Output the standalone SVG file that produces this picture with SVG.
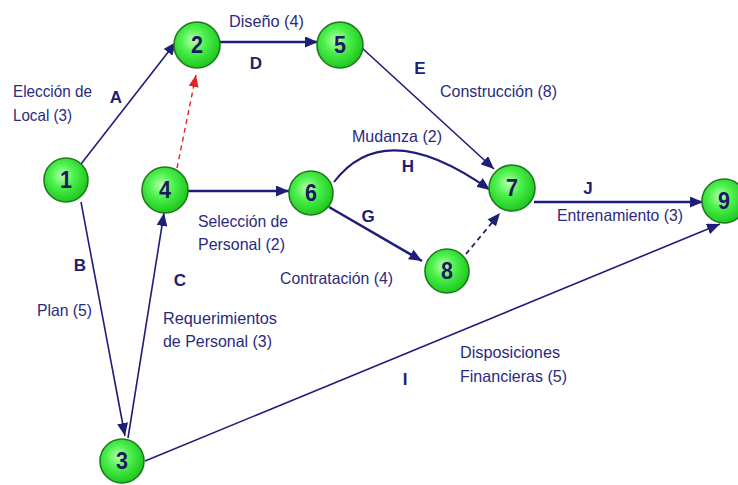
<svg xmlns="http://www.w3.org/2000/svg" width="738" height="485" viewBox="0 0 738 485">
  <style>
    .edge { fill: none; stroke: #1e1e78; stroke-width: 1.6; }
    .thick { stroke-width: 2.6; }
    .dummy { fill: none; stroke: #1e1e78; stroke-width: 1.8; stroke-dasharray: 5 4; }
    .red { fill: none; stroke: #e42222; stroke-width: 1.4; stroke-dasharray: 5 4; }
    .node circle { fill: url(#ball); stroke: #1f7a1f; stroke-width: 1.6; }
    .node text { font-family: "Liberation Sans", Arial, sans-serif; font-weight: bold; font-size: 23px; fill: #1a1a5e; text-anchor: middle; }
    .lbl { font-family: "Liberation Sans", Arial, sans-serif; font-size: 16.5px; fill: #2a2a7e; }
    .let { font-family: "Liberation Sans", Arial, sans-serif; font-size: 17px; font-weight: bold; fill: #1e1e70; text-anchor: middle; }
  </style>
  <defs>
    <radialGradient id="ball" cx="0.42" cy="0.4" r="0.6">
      <stop offset="0" stop-color="#b8ffb0"/>
      <stop offset="0.45" stop-color="#4cf04c"/>
      <stop offset="1" stop-color="#1fc81f"/>
    </radialGradient>
    <marker id="arr" markerUnits="userSpaceOnUse" markerWidth="13" markerHeight="11" refX="13" refY="5.5" orient="auto">
      <path d="M0,0 L13,5.5 L0,11 z" fill="#1e1e78"/>
    </marker>
    <marker id="arrRed" markerUnits="userSpaceOnUse" markerWidth="12" markerHeight="10" refX="12" refY="5" orient="auto">
      <path d="M0,0 L12,5 L0,10 z" fill="#e42222"/>
    </marker>
  </defs>

  <rect width="738" height="485" fill="#ffffff"/>

  <!-- activity arrows -->
  <g id="connectors">
    <line class="edge" x1="81" y1="164" x2="176" y2="42" marker-end="url(#arr)"/>
    <line class="edge" x1="81" y1="202" x2="125" y2="436" marker-end="url(#arr)"/>
    <line class="edge" x1="128" y1="438" x2="164" y2="213" marker-end="url(#arr)"/>
    <line class="red" x1="177" y1="168" x2="196" y2="75" marker-end="url(#arrRed)"/>
    <line class="edge thick" x1="220" y1="42" x2="318" y2="42" marker-end="url(#arr)"/>
    <line class="edge" x1="362" y1="48" x2="494" y2="169" marker-end="url(#arr)"/>
    <line class="edge thick" x1="188" y1="191" x2="289" y2="191" marker-end="url(#arr)"/>
    <path class="edge" d="M334,182 Q385,115 490,190" style="stroke-width:2" marker-end="url(#arr)"/>
    <line class="edge thick" x1="329" y1="207" x2="422" y2="261" marker-end="url(#arr)"/>
    <line class="dummy" x1="466" y1="254" x2="500" y2="213" marker-end="url(#arr)"/>
    <line class="edge thick" x1="534" y1="202" x2="703" y2="202" marker-end="url(#arr)"/>
    <line class="edge" x1="145" y1="461" x2="720" y2="224" marker-end="url(#arr)"/>
  </g>

  <!-- event nodes -->
  <g id="n1" class="node"><circle cx="66" cy="180" r="22"/><text x="66" y="188" textLength="12" lengthAdjust="spacingAndGlyphs">1</text></g>
  <g id="n2" class="node"><circle cx="197" cy="45" r="23"/><text x="197" y="53" textLength="12" lengthAdjust="spacingAndGlyphs">2</text></g>
  <g id="n3" class="node"><circle cx="122" cy="461" r="22"/><text x="122" y="469" textLength="12" lengthAdjust="spacingAndGlyphs">3</text></g>
  <g id="n4" class="node"><circle cx="165" cy="190" r="23"/><text x="165" y="198" textLength="12" lengthAdjust="spacingAndGlyphs">4</text></g>
  <g id="n5" class="node"><circle cx="340" cy="45" r="23"/><text x="340" y="53" textLength="12" lengthAdjust="spacingAndGlyphs">5</text></g>
  <g id="n6" class="node"><circle cx="311" cy="193" r="22"/><text x="311" y="201" textLength="12" lengthAdjust="spacingAndGlyphs">6</text></g>
  <g id="n7" class="node"><circle cx="512" cy="188" r="23"/><text x="512" y="196" textLength="12" lengthAdjust="spacingAndGlyphs">7</text></g>
  <g id="n8" class="node"><circle cx="447" cy="271" r="22"/><text x="447" y="279" textLength="12" lengthAdjust="spacingAndGlyphs">8</text></g>
  <g id="n9" class="node"><circle cx="724" cy="201" r="22"/><text x="724" y="209" textLength="12" lengthAdjust="spacingAndGlyphs">9</text></g>

  <!-- activity letters -->
  <g id="letters">
    <text class="let" x="116" y="103">A</text>
    <text class="let" x="80" y="271">B</text>
    <text class="let" x="180" y="286">C</text>
    <text class="let" x="256" y="69">D</text>
    <text class="let" x="420" y="74">E</text>
    <text class="let" x="368" y="222">G</text>
    <text class="let" x="408" y="172">H</text>
    <text class="let" x="405" y="385">I</text>
    <text class="let" x="588" y="194">J</text>
  </g>

  <!-- activity descriptions -->
  <g id="labels">
    <text class="lbl" x="13" y="97" textLength="79" lengthAdjust="spacingAndGlyphs">Elección de</text>
    <text class="lbl" x="13" y="121" textLength="59" lengthAdjust="spacingAndGlyphs">Local (3)</text>
    <text class="lbl" x="229" y="27" textLength="75" lengthAdjust="spacingAndGlyphs">Diseño (4)</text>
    <text class="lbl" x="440" y="97" textLength="117" lengthAdjust="spacingAndGlyphs">Construcción (8)</text>
    <text class="lbl" x="352" y="142" textLength="90" lengthAdjust="spacingAndGlyphs">Mudanza (2)</text>
    <text class="lbl" x="198" y="227" textLength="90" lengthAdjust="spacingAndGlyphs">Selección de</text>
    <text class="lbl" x="198" y="250" textLength="87" lengthAdjust="spacingAndGlyphs">Personal (2)</text>
    <text class="lbl" x="280" y="284" textLength="113" lengthAdjust="spacingAndGlyphs">Contratación (4)</text>
    <text class="lbl" x="557" y="221" textLength="126" lengthAdjust="spacingAndGlyphs">Entrenamiento (3)</text>
    <text class="lbl" x="37" y="316" textLength="55" lengthAdjust="spacingAndGlyphs">Plan (5)</text>
    <text class="lbl" x="163" y="324" textLength="114" lengthAdjust="spacingAndGlyphs">Requerimientos</text>
    <text class="lbl" x="163" y="347" textLength="109" lengthAdjust="spacingAndGlyphs">de Personal (3)</text>
    <text class="lbl" x="460" y="358" textLength="100" lengthAdjust="spacingAndGlyphs">Disposiciones</text>
    <text class="lbl" x="460" y="382" textLength="107" lengthAdjust="spacingAndGlyphs">Financieras (5)</text>
  </g>
</svg>
